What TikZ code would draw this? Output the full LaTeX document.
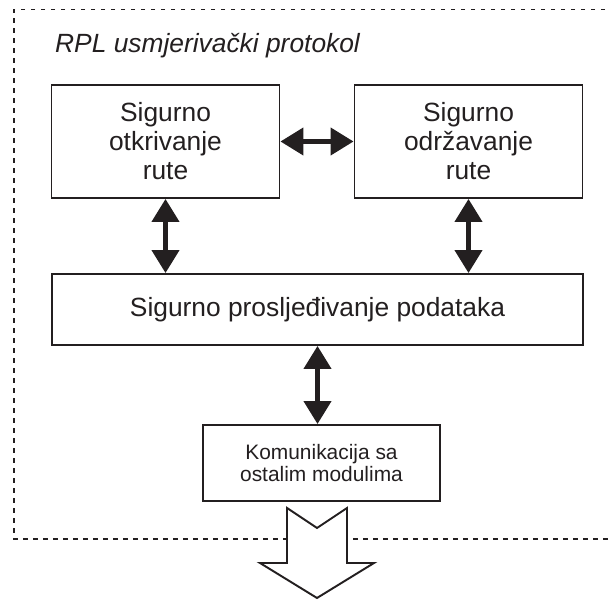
\documentclass[tikz,border=0pt]{standalone}
\usepackage{fontspec}
\setmainfont{Liberation Sans}
\usetikzlibrary{arrows.meta}
\definecolor{ink}{HTML}{231F20}

\begin{document}
\begin{tikzpicture}[
    block/.style={
        draw=ink, line width=1.1pt, fill=white,
        align=center, text=ink, inner sep=0pt,
        font=\fontsize{15}{16.5}\selectfont
    },
    link/.style={
        {Triangle[length=0.46cm, width=0.54cm]}-{Triangle[length=0.46cm, width=0.54cm]},
        line width=2.5pt, draw=ink
    },
    frame/.style={draw=ink, line width=1.1pt, dash pattern=on 0.09cm off 0.11cm}
]

\useasboundingbox (0,0) rectangle (12.2,-12.02);

\draw[frame] (12.3,-0.19) -- (0.28,-0.19) -- (0.28,-10.78) -- (12.3,-10.78);

\node[anchor=base west, text=ink, font=\fontsize{15}{18}\selectfont\itshape] (title) at (0.98,-1.06) {RPL usmjerivački protokol};

\node[block, minimum width=4.56cm, minimum height=2.26cm] (discovery)   at (3.31, -2.83) {Sigurno\\otkrivanje\\rute};
\node[block, minimum width=4.56cm, minimum height=2.26cm] (maintenance) at (9.37, -2.83) {Sigurno\\održavanje\\rute};
\node[block, minimum width=10.62cm, minimum height=1.42cm] (forwarding) at (6.35, -6.19) {Sigurno prosljeđivanje podataka};
\node[block, minimum width=4.74cm, minimum height=1.52cm, font=\fontsize{11.9}{12.4}\selectfont] (comm) at (6.43, -9.26) {Komunikacija sa\\ostalim modulima};

\draw[link] (discovery) -- (maintenance);
\draw[link] (discovery.south)   -- (discovery.south |- forwarding.north);
\draw[link] (maintenance.south) -- (maintenance.south |- forwarding.north);
\draw[link] (forwarding.south)  -- (forwarding.south |- comm.north);

\coordinate (out) at (6.34, -10.16);
\draw[ink, line width=1.1pt, fill=white, line join=miter]
    (out) ++(-0.6,0) -- ++(0.6,-0.4) -- ++(0.6,0.4) -- ++(0,-1.1) -- ++(0.54,0)
    -- ++(-1.14,-0.7) -- ++(-1.14,0.7) -- ++(0.54,0) -- cycle;

\end{tikzpicture}
\end{document}
